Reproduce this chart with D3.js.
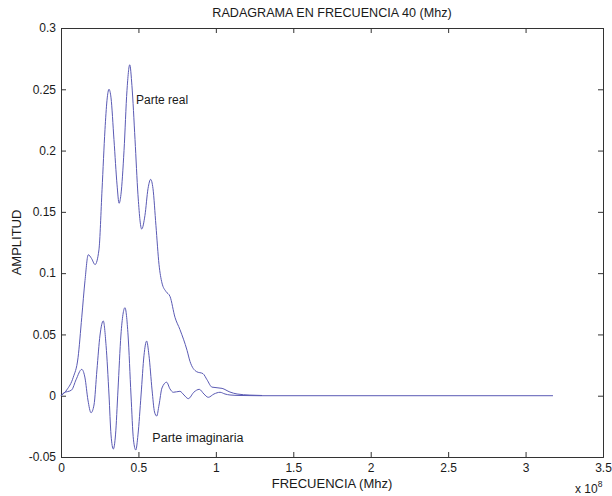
<!DOCTYPE html>
<html>
<head>
<meta charset="utf-8">
<script src="https://cdn.jsdelivr.net/npm/d3@7"></script>
<style>
  body { margin: 0; background: #fff; }
  svg text { font-family: "Liberation Sans", Arial, sans-serif; fill: #1a1a1a; }
</style>
</head>
<body>
<div id="chart"></div>
<script>
// frequency in units of 1e8 Hz
const realFreq = [0, 0.037, 0.079, 0.11, 0.134, 0.155, 0.176, 0.197, 0.22, 0.245, 0.265, 0.284, 0.297, 0.31,
  0.323, 0.342, 0.362, 0.375, 0.387, 0.407, 0.426, 0.444, 0.458, 0.478, 0.497, 0.521, 0.542, 0.562, 0.579,
  0.594, 0.613, 0.633, 0.652, 0.678, 0.704, 0.736, 0.768, 0.814, 0.833, 0.876, 0.917, 0.943, 0.975, 1.04,
  1.091, 1.137, 1.22, 1.298];
const realAmp = [0, 0.0047, 0.015, 0.031, 0.064, 0.094, 0.115, 0.112, 0.107, 0.119, 0.168, 0.217, 0.241, 0.25,
  0.243, 0.209, 0.172, 0.157, 0.164, 0.2, 0.249, 0.27, 0.253, 0.209, 0.164, 0.136, 0.147, 0.169, 0.1765,
  0.169, 0.139, 0.107, 0.092, 0.085, 0.081, 0.064, 0.054, 0.037, 0.028, 0.0196, 0.018, 0.013, 0.007, 0.006,
  0.003, 0.0014, 0.0005, 0.0002];

const imagFreq = [0, 0.015, 0.069, 0.097, 0.134, 0.155, 0.174, 0.194, 0.213, 0.232, 0.252, 0.273, 0.291, 0.31,
  0.323, 0.338, 0.352, 0.368, 0.387, 0.413, 0.433, 0.452, 0.468, 0.483, 0.497, 0.517, 0.536, 0.553, 0.568,
  0.588, 0.604, 0.618, 0.633, 0.652, 0.682, 0.704, 0.725, 0.768, 0.794, 0.822, 0.859, 0.893, 0.923, 0.951,
  0.988, 1.027, 1.059, 1.091, 1.156, 1.285, 3.177];
const imagAmp = [0, 0.002, 0.0047, 0.013, 0.0215, 0.0145, -0.0035, -0.0139, -0.0076, 0.021, 0.0495, 0.061, 0.041, 0.0006,
  -0.032, -0.0435, -0.032, 0.0047, 0.0495, 0.0718, 0.0495, 0.0006, -0.036, -0.0443, -0.032, 0.0006, 0.033, 0.0446, 0.033,
  0.0047, -0.0133, -0.0166, -0.0076, 0.0063, 0.011, 0.0055, 0.0028, 0.0036, 0.0006, -0.0024, 0.003, 0.0052, 0.0014, -0.0013,
  0.0014, 0.0028, 0.0014, 0.0006, 0.0002, 0, 0];

const xTicks = [0, 0.5, 1, 1.5, 2, 2.5, 3, 3.5];
const yTicks = [-0.05, 0, 0.05, 0.1, 0.15, 0.2, 0.25, 0.3];

const width = 612, height = 496;
const margin = { top: 28, right: 9, bottom: 39, left: 61 };

const svg = d3.select("#chart")
  .append("svg")
  .attr("width", width)
  .attr("height", height);

const x = d3.scaleLinear().domain([0, 3.5]).range([margin.left, width - margin.right]);
const y = d3.scaleLinear().domain([-0.05, 0.3]).range([height - margin.bottom, margin.top]);

const fmt = d => String(+d.toFixed(2));
const tickLen = 5;

// box with inward ticks on every side
svg.append("g")
  .attr("transform", `translate(0,${y(-0.05)})`)
  .call(d3.axisBottom(x).tickValues(xTicks).tickSize(-tickLen).tickPadding(6).tickFormat(fmt));
svg.append("g")
  .attr("transform", `translate(0,${y(0.3)})`)
  .call(d3.axisTop(x).tickValues(xTicks).tickSize(-tickLen).tickFormat(""));
svg.append("g")
  .attr("transform", `translate(${x(0)},0)`)
  .call(d3.axisLeft(y).tickValues(yTicks).tickSize(-tickLen).tickPadding(5).tickFormat(fmt));
svg.append("g")
  .attr("transform", `translate(${x(3.5)},0)`)
  .call(d3.axisRight(y).tickValues(yTicks).tickSize(-tickLen).tickFormat(""));

svg.selectAll(".domain, .tick line").attr("stroke", "#333").attr("stroke-width", 1);
svg.selectAll(".tick text")
  .attr("font-size", 12)
  .attr("font-family", "Liberation Sans, Arial, sans-serif")
  .attr("fill", "#1a1a1a");

// curves
const line = d3.line()
  .x(d => x(d[0]))
  .y(d => y(d[1]))
  .curve(d3.curveMonotoneX);

const imagData = d3.zip(imagFreq, imagAmp);
const realData = d3.zip(realFreq, realAmp);

svg.append("path")
  .datum(imagData)
  .attr("fill", "none")
  .attr("stroke", "#5a5ab4")
  .attr("stroke-width", 1)
  .attr("d", line);

svg.append("path")
  .datum(realData)
  .attr("fill", "none")
  .attr("stroke", "#5a5ab4")
  .attr("stroke-width", 1)
  .attr("d", line);

// labels
svg.append("text")
  .attr("x", (margin.left + width - margin.right) / 2)
  .attr("y", 17)
  .attr("text-anchor", "middle")
  .attr("font-size", 12.6)
  .text("RADAGRAMA EN FRECUENCIA 40 (Mhz)");

svg.append("text")
  .attr("x", (margin.left + width - margin.right) / 2)
  .attr("y", 488)
  .attr("text-anchor", "middle")
  .attr("font-size", 13)
  .text("FRECUENCIA (Mhz)");

svg.append("text")
  .attr("transform", `translate(21,${y(0.125)}) rotate(-90)`)
  .attr("text-anchor", "middle")
  .attr("font-size", 13)
  .text("AMPLITUD");

const exp = svg.append("text")
  .attr("x", 575)
  .attr("y", 493)
  .attr("font-size", 12);
exp.append("tspan").text("x 10");
exp.append("tspan").attr("dy", -6).attr("font-size", 8.5).text("8");

svg.append("text")
  .attr("x", x(0.485))
  .attr("y", y(0.238))
  .attr("font-size", 12)
  .text("Parte real");

svg.append("text")
  .attr("x", x(0.59))
  .attr("y", y(-0.0375))
  .attr("font-size", 12.5)
  .text("Parte imaginaria");
</script>
</body>
</html>
